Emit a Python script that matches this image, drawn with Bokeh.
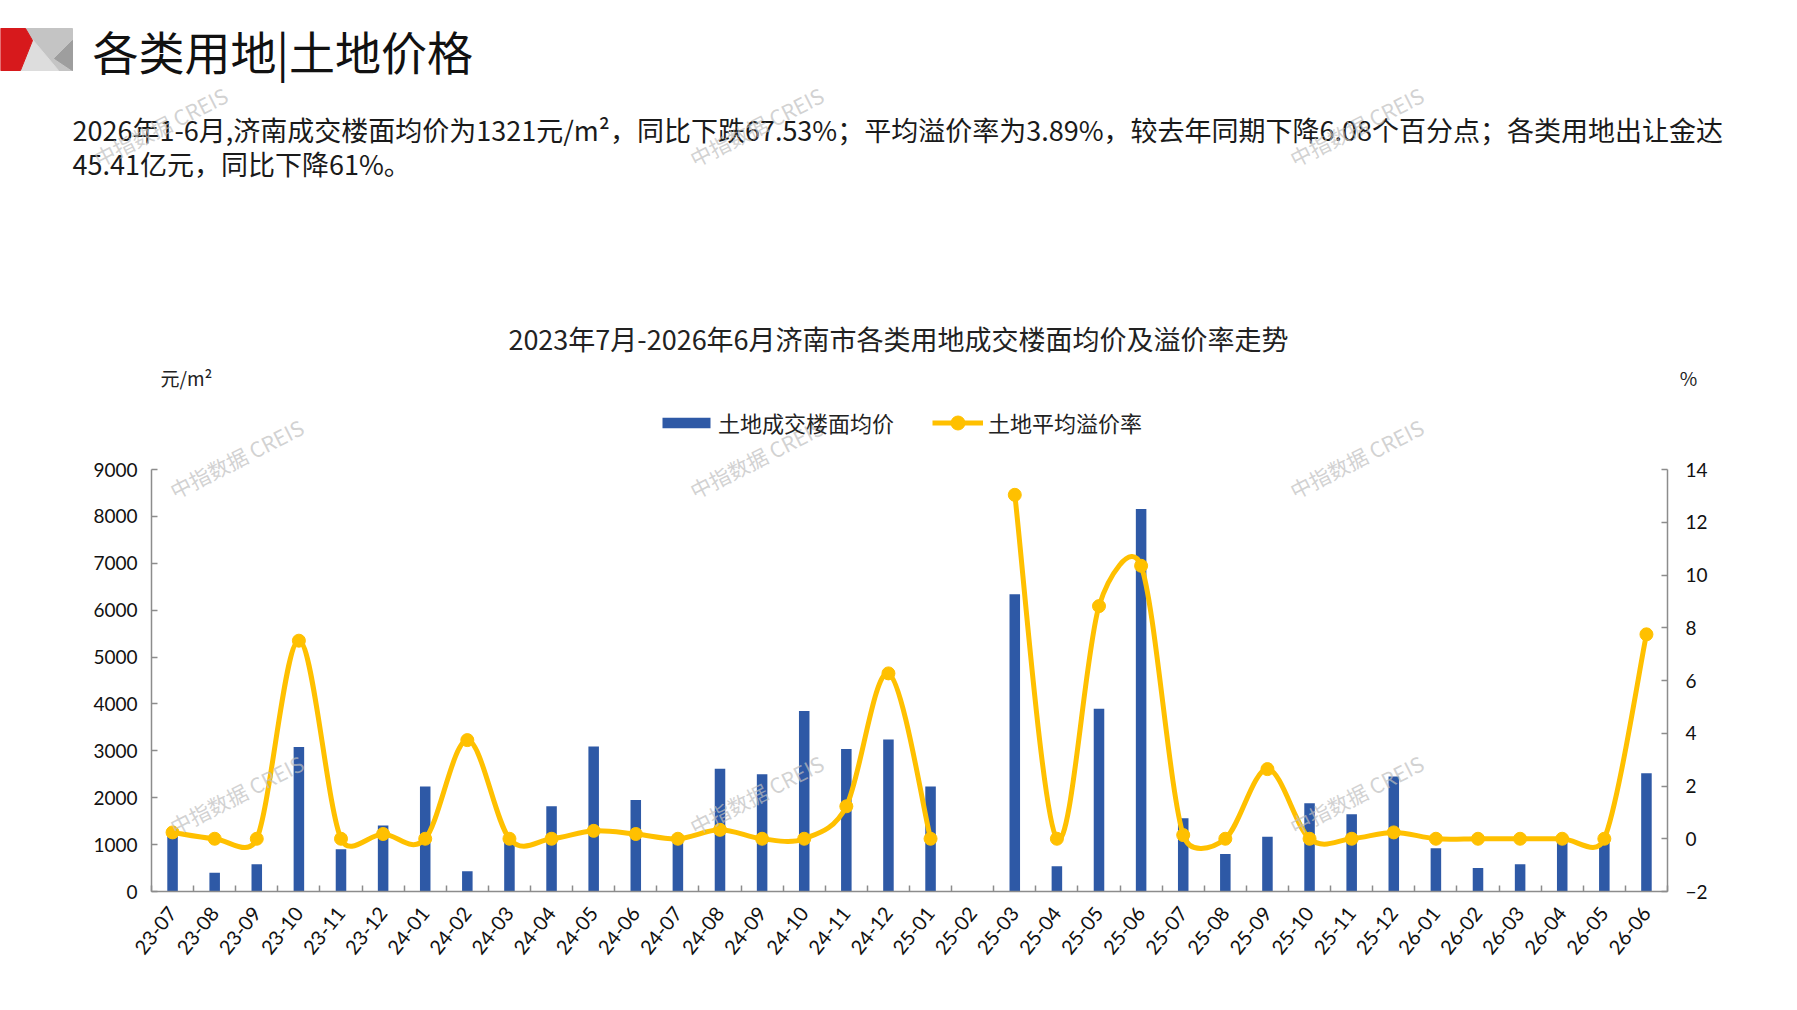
import math
from bokeh.plotting import figure
from bokeh.models import (Range1d, LinearAxis, FixedTicker, Legend, LegendItem,
                          Label, ColumnDataSource)
from bokeh.core.properties import value
from bokeh.embed import file_html
from bokeh.resources import INLINE

# ---------------- data ----------------
months = ["23-07", "23-08", "23-09", "23-10", "23-11", "23-12",
          "24-01", "24-02", "24-03", "24-04", "24-05", "24-06",
          "24-07", "24-08", "24-09", "24-10", "24-11", "24-12",
          "25-01", "25-02", "25-03", "25-04", "25-05", "25-06",
          "25-07", "25-08", "25-09", "25-10", "25-11", "25-12",
          "26-01", "26-02", "26-03", "26-04", "26-05", "26-06"]
price = [1180, 400, 580, 3080, 900, 1410,
         2240, 430, 1080, 1820, 3090, 1950,
         1050, 2620, 2500, 3850, 3040, 3240,
         2240, 0, 6340, 540, 3900, 8160,
         1560, 800, 1170, 1880, 1650, 2450,
         920, 500, 580, 1050, 1100, 2520]
rate = [0.24, 0.0, 0.0, 7.51, 0.0, 0.18,
        0.0, 3.74, 0.0, 0.0, 0.30, 0.18,
        0.0, 0.34, 0.0, 0.0, 1.23, 6.27,
        0.0, None, 13.04, 0.0, 8.82, 10.35,
        0.14, 0.0, 2.64, 0.0, 0.0, 0.24,
        0.0, 0.0, 0.0, 0.0, 0.0, 7.75]
left_ticks = list(range(0, 9001, 1000))
right_ticks = list(range(-2, 15, 2))
left_min, left_max = 0, 9000
right_min, right_max = -2, 14

header_title = "各类用地|土地价格"
para1 = "2026年1-6月,济南成交楼面均价为1321元/m²，同比下跌67.53%；平均溢价率为3.89%，较去年同期下降6.08个百分点；各类用地出让金达"
para2 = "45.41亿元，同比下降61%。"
chart_title = "2023年7月-2026年6月济南市各类用地成交楼面均价及溢价率走势"
legend_bar = "土地成交楼面均价"
legend_line = "土地平均溢价率"
unit_left = "元/m²"
unit_right = "%"
watermark = "中指数据 CREIS"

CJK = "Noto Sans CJK SC"
NUM = "Lato"
BAR_C = "#2E59A6"
LINE_C = "#FFC000"
AXIS_C = "#8C8C8C"
WM_C = "#BEBEBE"

W = 1781
H1 = 400          # header: page y 0 .. 400
H2 = 600          # chart:  page y 400 .. 1000

# ---------------- header figure (coordinates = page pixels) ----------------
h = figure(width=W, height=H1, x_range=Range1d(0, W), y_range=Range1d(H1, 0),
           output_backend="svg", toolbar_location=None, min_border=0,
           x_axis_location=None, y_axis_location=None, outline_line_color=None)
h.grid.visible = False

# logo
h.patch([25, 72, 72, 25], [28, 28, 70, 70], color="#C4C4C4")
h.patch([32, 58, 20], [39, 70, 70], color="#DDDDDD")
h.patch([72, 54, 72], [40, 58, 70], color="#9E9E9E")
h.patch([0, 25, 32, 20, 0], [28, 28, 40, 70, 70], color="#D7191C")

h.text(x=[92], y=[49], text=[header_title], text_font=value(CJK), text_font_size="46px",
       text_baseline="middle", text_align="left", text_color="#111111")
h.text(x=[72, 72], y=[129, 163], text=[para1, para2], text_font=value(CJK),
       text_font_size="27px", text_baseline="middle", text_align="left", text_color="#1A1A1A")
h.text(x=[898], y=[338], text=[chart_title], text_font=value(CJK), text_font_size="27px",
       text_baseline="middle", text_align="center", text_color="#222222")
h.text(x=[160], y=[377], text=[unit_left], text_font=value(CJK), text_font_size="19px",
       text_baseline="middle", text_align="left", text_color="#222222")
h.text(x=[1688], y=[377], text=[unit_right], text_font=value(CJK), text_font_size="19px",
       text_baseline="middle", text_align="center", text_color="#222222")
h.text(x=[160, 756, 1356], y=[126, 126, 126], text=[watermark] * 3, angle=0.47,
       text_font=value(CJK), text_font_size="21px", text_baseline="middle",
       text_align="center", text_color=WM_C, text_alpha=0.7)

# ---------------- chart figure ----------------
FL, FR_, FT, FB = 151, 1667, H1, 891     # frame edges in page px
ML, MR, MT, MB = FL, W - FR_, 0, H1 + H2 - FB
AXIS_TOP = 469              # where the top ticks (9000 / 14) sit
frame_w = FR_ - FL
frame_h = FB - FT
axis_h = FB - AXIS_TOP
# ranges extended above the axes so that the legend sits inside the frame
y_top_left = left_min + (left_max - left_min) * frame_h / axis_h
y_top_right = right_min + (right_max - right_min) * frame_h / axis_h

n = len(months)
centers = [i + 0.5 for i in range(n)]

p = figure(width=W, height=H2, x_range=Range1d(0, n), y_range=Range1d(left_min, y_top_left),
           output_backend="svg", toolbar_location=None,
           min_border_left=ML, min_border_right=MR, min_border_top=MT, min_border_bottom=MB,
           outline_line_color=None)
p.extra_y_ranges = {"rate": Range1d(right_min, y_top_right)}
p.xgrid.visible = False
p.ygrid.visible = False

src = ColumnDataSource(dict(x=centers, price=price,
                            rate=[float("nan") if r is None else r for r in rate]))
bars = p.vbar(x="x", top="price", bottom=0, width=0.25, source=src,
              fill_color=BAR_C, line_color=None)

# smoothed line (Excel style bezier through the data points)
kx = frame_w / n
ky = axis_h / (right_max - right_min)
runs, cur = [], []
for i, r in enumerate(rate):
    if r is None:
        if cur:
            runs.append(cur)
        cur = []
    else:
        cur.append((centers[i], r))
if cur:
    runs.append(cur)

def dist(a, b):
    return math.hypot((a[0] - b[0]) * kx, (a[1] - b[1]) * ky)

bz = dict(x0=[], y0=[], x1=[], y1=[], cx0=[], cy0=[], cx1=[], cy1=[])
for pts in runs:
    for j in range(len(pts) - 1):
        p0 = pts[j - 1] if j > 0 else pts[j]
        p1 = pts[j]
        p2 = pts[j + 1]
        p3 = pts[j + 2] if j + 2 < len(pts) else pts[j + 1]
        d12 = dist(p1, p2)
        d02 = dist(p0, p2)
        d13 = dist(p1, p3)
        f0 = 1 / 6 if d02 / 6 < d12 / 2 else d12 / (2 * d02)
        f1 = 1 / 6 if d13 / 6 < d12 / 2 else d12 / (2 * d13)
        bz["x0"].append(p1[0]); bz["y0"].append(p1[1])
        bz["x1"].append(p2[0]); bz["y1"].append(p2[1])
        bz["cx0"].append(p1[0] + f0 * (p2[0] - p0[0]))
        bz["cy0"].append(p1[1] + f0 * (p2[1] - p0[1]))
        bz["cx1"].append(p2[0] - f1 * (p3[0] - p1[0]))
        bz["cy1"].append(p2[1] - f1 * (p3[1] - p1[1]))

curve = p.bezier(x0="x0", y0="y0", x1="x1", y1="y1", cx0="cx0", cy0="cy0",
                 cx1="cx1", cy1="cy1", source=ColumnDataSource(bz),
                 line_color=LINE_C, line_width=5, y_range_name="rate")
dots = p.scatter(x="x", y="rate", source=src, size=13, fill_color=LINE_C,
                 line_color=LINE_C, y_range_name="rate")

# axes
xa = p.xaxis[0]
xa.ticker = FixedTicker(ticks=centers, minor_ticks=list(range(n + 1)))
xa.major_label_overrides = {c: m for c, m in zip(centers, months)}
xa.major_label_orientation = 0.9
xa.major_tick_line_color = None
xa.minor_tick_in = 6
xa.minor_tick_out = 0
xa.minor_tick_line_color = AXIS_C
xa.minor_tick_line_width = 1.5

ya = p.yaxis[0]
ya.ticker = FixedTicker(ticks=left_ticks)
ya.bounds = (left_min, left_max)
ya.major_tick_in = 6
ya.major_tick_out = 0
ya.minor_tick_line_color = None
ya.major_label_standoff = 14

yr = LinearAxis(y_range_name="rate", ticker=FixedTicker(ticks=right_ticks),
                bounds=(right_min, right_max))
yr.major_tick_in = 6
yr.major_tick_out = 0
yr.minor_tick_line_color = None
yr.major_label_standoff = 18
p.add_layout(yr, "right")

for ax in (xa, ya, yr):
    ax.axis_line_color = AXIS_C
    ax.axis_line_width = 1.5
    ax.major_tick_line_width = 1.5
    if ax is not xa:
        ax.major_tick_line_color = AXIS_C
    ax.major_label_text_font = NUM
    ax.major_label_text_font_size = "19px"
    ax.major_label_text_color = "#111111"
xa.major_label_standoff = 12
xa.major_label_text_font_size = "20px"

# legends (inside the extended frame, above the axes' top)
legend_common = dict(orientation="horizontal", padding=0, margin=0, label_height=36,
                     label_width=10, border_line_color=None, background_fill_alpha=0,
                     label_text_font=CJK, label_text_font_size="22px",
                     label_text_color="#222222")
leg_bar = Legend(items=[LegendItem(label=legend_bar, renderers=[bars])],
                 location=(505, 451), glyph_width=60, glyph_height=13,
                 label_standoff=2, **legend_common)
leg_line = Legend(items=[LegendItem(label=legend_line, renderers=[curve, dots])],
                  location=(781, 451), glyph_width=51, glyph_height=35,
                  label_standoff=5, **legend_common)
p.add_layout(leg_bar)
p.add_layout(leg_line)

# watermarks (kept inside the frame)
for sx, sy in [(236, 458), (756, 458), (1356, 458), (236, 794), (756, 794), (1356, 794)]:
    p.add_layout(Label(x=sx - FL, y=FB - sy, x_units="screen", y_units="screen",
                       text=watermark, angle=0.47, text_align="center",
                       text_baseline="middle", text_font=CJK, text_font_size="21px",
                       text_color=WM_C, text_alpha=0.7))

open("out.html", "w").write(file_html([h, p], INLINE))
